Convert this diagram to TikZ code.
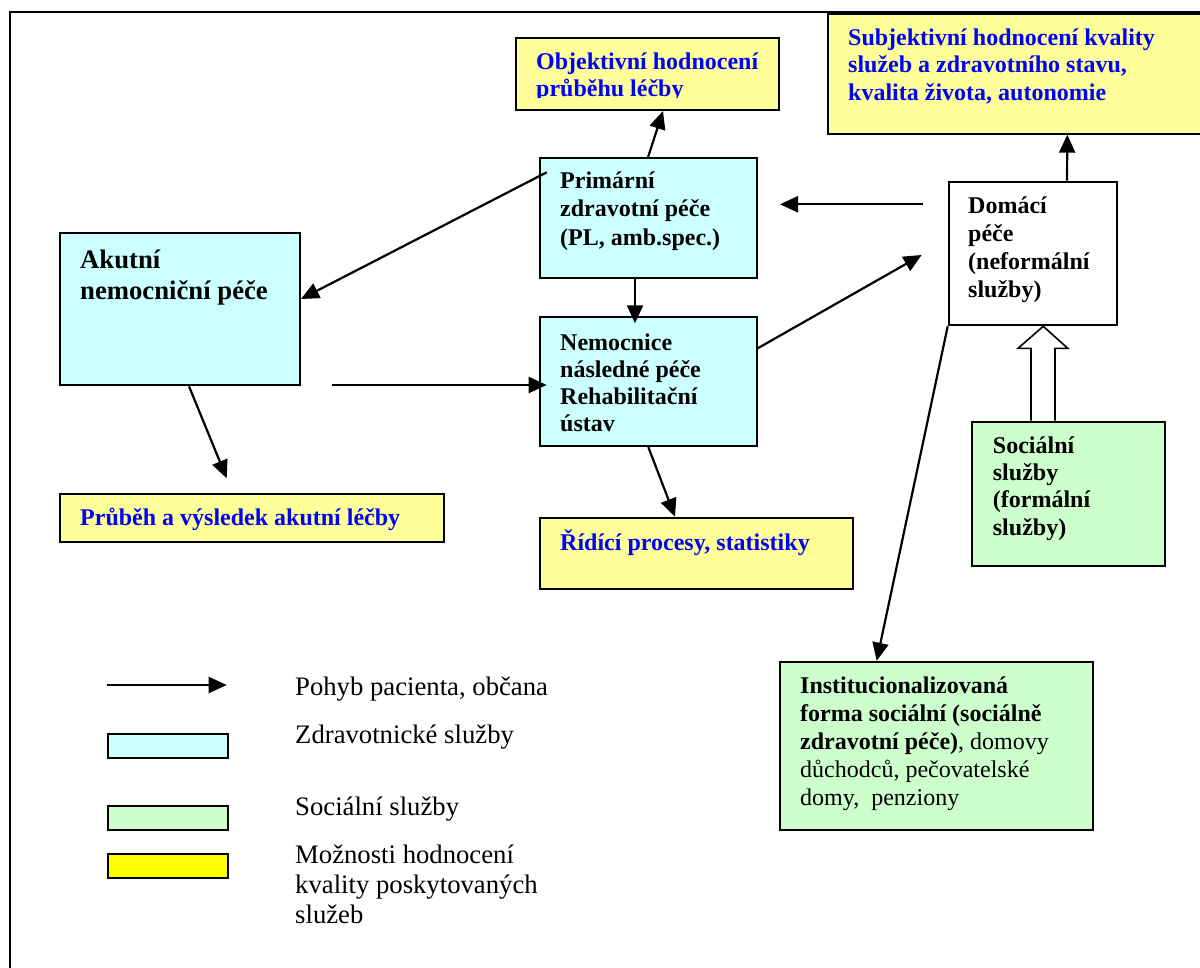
\documentclass[tikz,border=0pt]{standalone}
\usepackage{fontspec}
\setmainfont{Liberation Serif}
\usetikzlibrary{calc,arrows.meta}

\definecolor{healthcyan}{HTML}{CCFFFF}
\definecolor{socialgreen}{HTML}{CCFFCC}
\definecolor{evalyellow}{HTML}{FFFF99}
\definecolor{legendyellow}{HTML}{FFFF00}
\definecolor{evalblue}{HTML}{0000FF}

\tikzset{
  box/.style={draw=black, line width=2pt, inner sep=0pt, anchor=north west},
  healthbox/.style={box, fill=healthcyan},
  socialbox/.style={box, fill=socialgreen},
  evalbox/.style={box, fill=evalyellow},
  homebox/.style={box, fill=white},
  flow/.style={line width=2.2pt, -{Triangle[length=18pt,width=16pt]}},
  blockarrow/.style={draw=black, line width=1.6pt, fill=white, line join=miter},
  % anchored at the baseline of the last line
  boxtext/.style={anchor=base west, inner sep=0pt, align=left},
  boldtext/.style={boxtext, font={\bfseries\fontsize{24}{28}\selectfont}},
  evaltext/.style={boxtext, text=evalblue, font={\bfseries\fontsize{24}{27.5}\selectfont}},
  legendtext/.style={boxtext, font={\fontsize{26.7}{30}\selectfont}},
}

\begin{document}
\begin{tikzpicture}[x=1pt, y=-1pt]
\useasboundingbox (0,0) rectangle (1200,967);

% outer frame
\draw[line width=2pt] (9.5,1000) -- (9.5,11.7) -- (1230,11.7);

% boxes
\node[evalbox, minimum width=263.3pt, minimum height=72pt] (objk) at (515,37) {};
\node[evalbox, minimum width=390pt, minimum height=120pt] (subj) at (827,12.7) {};
\node[healthbox, minimum width=216.4pt, minimum height=119.4pt] (prim) at (539.3,157.3) {};
\node[healthbox, minimum width=240pt, minimum height=152pt] (akut) at (59,232.3) {};
\node[healthbox, minimum width=216.4pt, minimum height=129pt] (nemo) at (539.3,316) {};
\node[homebox, minimum width=168pt, minimum height=143.6pt] (domac) at (947.7,180.7) {};
\node[socialbox, minimum width=193pt, minimum height=144.3pt] (socs) at (971,420.7) {};
\node[socialbox, minimum width=312.7pt, minimum height=168.3pt] (inst) at (779,660.7) {};
\node[evalbox, minimum width=384.3pt, minimum height=47.4pt] (prub) at (59,493.3) {};
\node[evalbox, minimum width=312.4pt, minimum height=71.6pt] (ridi) at (539.3,516.7) {};

% box texts
\begin{scope}
  \clip (515,37) rectangle (778.3,97.9);
  \node[evaltext] (objkt) at (536,96.7) {Objektivní hodnocení\\průběhu léčby};
\end{scope}
\node[evaltext, font={\bfseries\fontsize{24}{27.2}\selectfont}] (subjt) at (848,100.1)
  {Subjektivní hodnocení kvality\\služeb a zdravotního stavu,\\kvalita života, autonomie};
\node[boldtext, font={\bfseries\fontsize{24}{28.5}\selectfont}] (primt) at (560,245)
  {Primární\\zdravotní péče\\(PL, amb.spec.)};
\node[boxtext, font={\bfseries\fontsize{26.7}{30.7}\selectfont}] (akutt) at (80,299)
  {Akutní\\nemocniční péče};
\node[boldtext, font={\bfseries\fontsize{24}{27}\selectfont}] (nemot) at (560,431)
  {Nemocnice\\následné péče\\Rehabilitační\\ústav};
\node[boldtext] (domact) at (968,297) {Domácí\\péče\\(neformální\\služby)};
\node[boldtext, font={\bfseries\fontsize{24}{27.3}\selectfont}] (socst) at (992.7,535)
  {Sociální\\služby\\(formální\\služby)};
\node[boxtext, font={\fontsize{24}{28}\selectfont}] (instt) at (800,805)
  {\textbf{Institucionalizovaná}\\\textbf{forma sociální (sociálně}\\\textbf{zdravotní péče)}, domovy\\důchodců, pečovatelské\\domy,\ \ penziony};
\node[evaltext] (prubt) at (80,525) {Průběh a výsledek akutní léčby};
\node[evaltext] (ridit) at (560,550) {Řídící procesy, statistiky};

% free ends of connectors
\coordinate (akutout) at (331.7,385);
\coordinate (prubtip) at (226.7,478.3);
\coordinate (domin) at (921.7,255);
\coordinate (domout) at (923.3,204.3);
\coordinate (primin) at (780,204.3);

% connectors
\draw[flow] ($(prim.north west)+(108.7,0)$) -- ($(objk.south west)+(148,0)$);
\draw[flow] ($(prim.north west)+(7.4,15)$) -- ($(akut.north east)+(0,66.7)$);
\draw[flow] ($(akut.south west)+(130,0)$) -- (prubtip);
\draw[flow] (akutout) -- ($(nemo.north west)+(7.4,69)$);
\draw[flow] ($(prim.south west)+(95.7,0)$) -- ($(nemo.north west)+(95.7,7.3)$);
\draw[flow] ($(nemo.north east)+(0,32.3)$) -- (domin);
\draw[flow] (domout) -- (primin);
\draw[flow] ($(nemo.south west)+(109,0)$) -- ($(ridi.north west)+(135.7,0)$);
\draw[flow] ($(domac.north west)+(119.3,0)$) -- ($(subj.south west)+(240.3,0)$);
\draw[flow] (domac.south west) -- ($(inst.north west)+(97.7,0)$);

% hollow block arrow from social services to home care
\draw[blockarrow] ($(socs.north west)+(60,0)$) -- ++(0,-72.4) -- ++(-13,0)
  -- ($(domac.south west)+(95.6,0)$) -- ($(socs.north west)+(96.7,-72.4)$)
  -- ++(-12.7,0) -- ($(socs.north west)+(84,0)$);

% legend
\coordinate (legA) at (106.7,685);
\coordinate (legB) at (226.7,685);
\draw[flow] (legA) -- (legB);
\node[healthbox, minimum width=120.6pt, minimum height=24.6pt] (legH) at (106.7,732.7) {};
\node[socialbox, minimum width=120.6pt, minimum height=24.3pt] (legS) at (106.7,805) {};
\node[box, fill=legendyellow, minimum width=120.6pt, minimum height=24.6pt] (legE) at (106.7,852.7) {};
\node[legendtext] (legAt) at (295,695) {Pohyb pacienta, občana};
\node[legendtext] (legHt) at (295,743.3) {Zdravotnické služby};
\node[legendtext] (legSt) at (295,815) {Sociální služby};
\node[legendtext] (legEt) at (295,923.3) {Možnosti hodnocení\\kvality poskytovaných\\služeb};
\end{tikzpicture}
\end{document}
